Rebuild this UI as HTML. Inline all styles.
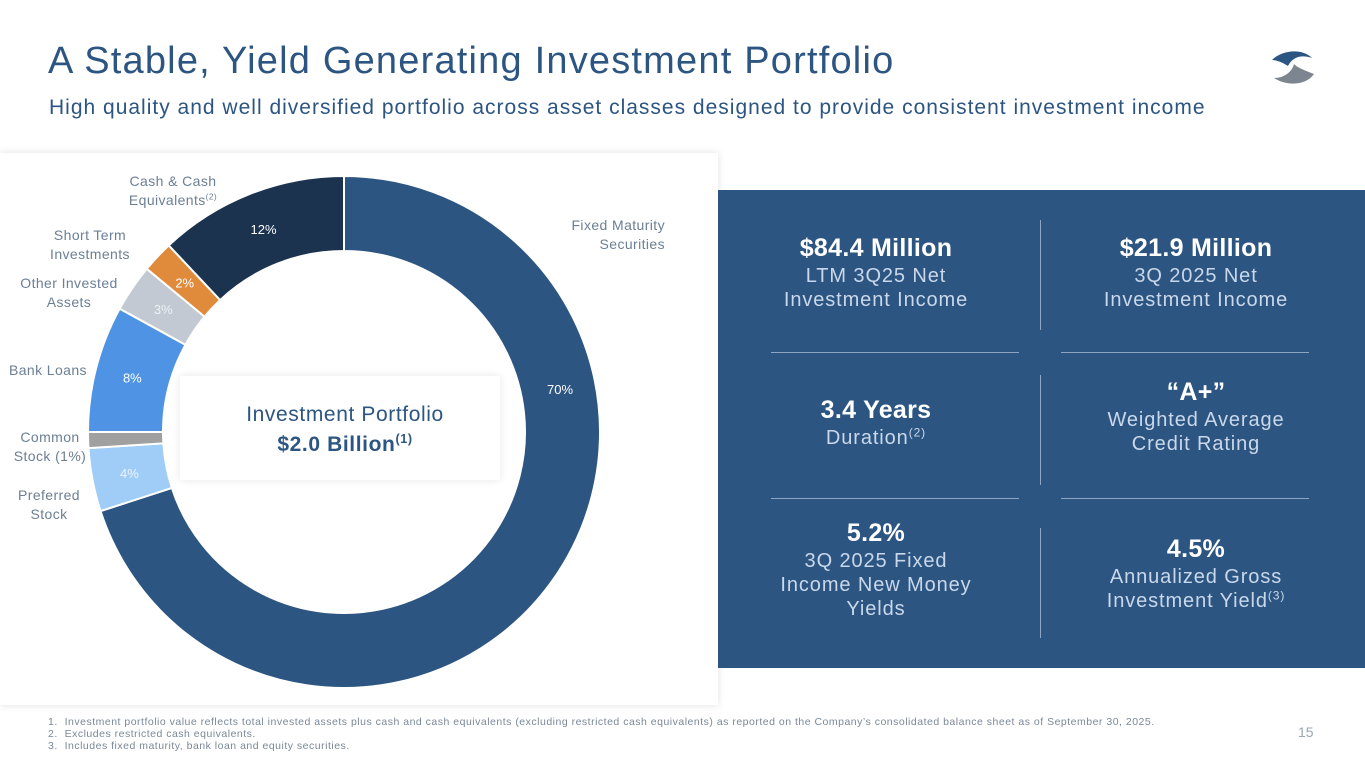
<!DOCTYPE html>
<html><head><meta charset="utf-8">
<style>
body{margin:0;width:1365px;height:768px;background:#fff;font-family:"Liberation Sans",sans-serif;position:relative;overflow:hidden;color:#2c5582}
.abs{position:absolute}
sup{line-height:0;font-size:0.6em}
h1{position:absolute;left:48px;top:40px;margin:0;font-weight:normal;font-size:38px;color:#2c5582;letter-spacing:1.2px}
.sub{left:49px;top:96px;font-size:21px;color:#2c5582;letter-spacing:1px}
.panel{left:0;top:153px;width:718px;height:552px;background:#fff;box-shadow:0 0 8px rgba(0,0,0,0.12)}
.right{left:718px;top:190px;width:647px;height:478px;background:#2c5582}
.cell{position:absolute;width:240px;text-align:center;color:#c9d8ea;font-size:20px;line-height:24px;letter-spacing:0.9px}
.cell b{display:block;color:#fff;font-size:25px;line-height:32px;letter-spacing:0.3px}
.vl{position:absolute;width:1px;background:#8fa6c2}
.hl{position:absolute;height:1px;background:#8fa6c2}
.lbl{font-size:14px;color:#6b7f95;line-height:19px;letter-spacing:0.4px}
.fn{left:48px;font-size:10.5px;color:#7a8898;letter-spacing:0.5px}
</style></head><body>
<h1>A Stable, Yield Generating Investment Portfolio</h1>
<div class="abs sub">High quality and well diversified portfolio across asset classes designed to provide consistent investment income</div>
<svg class="abs" style="left:1262px;top:48px" width="60" height="42" viewBox="0 0 60 42">
<path d="M10 12 C20 2,40 0,50 10 C38 6,30 10,26 18 C20 14,14 12,10 12Z" fill="#2c5582"/>
<path d="M12 30 C24 38,44 38,52 26 C42 22,36 20,32 16 C30 24,22 30,12 30Z" fill="#7d8690"/>
</svg>
<div class="abs panel"></div>
<div class="abs" style="left:180px;top:376px;width:320px;height:104px;background:#fff;box-shadow:0 0 8px rgba(0,0,0,0.1)"></div>
<svg id="donut" class="abs" style="left:0;top:0" width="718" height="768"></svg>
<div class="abs" style="left:180px;top:400px;width:330px;text-align:center;font-size:21px;color:#2c5582;line-height:30px;letter-spacing:0.6px">Investment Portfolio<br><b>$2.0 Billion<sup>(1)</sup></b></div>
<div class="abs lbl" style="left:118px;top:172px;width:110px;text-align:center">Cash &amp; Cash<br>Equivalents<sup>(2)</sup></div>
<div class="abs lbl" style="left:35px;top:226px;width:110px;text-align:center">Short Term<br>Investments</div>
<div class="abs lbl" style="left:8px;top:274px;width:122px;text-align:center">Other Invested<br>Assets</div>
<div class="abs lbl" style="left:9px;top:361px">Bank Loans</div>
<div class="abs lbl" style="left:8px;top:428px;width:84px;text-align:center">Common<br>Stock (1%)</div>
<div class="abs lbl" style="left:10px;top:486px;width:78px;text-align:center">Preferred<br>Stock</div>
<div class="abs lbl" style="left:545px;top:216px;width:120px;text-align:right">Fixed Maturity<br>Securities</div>
<div class="abs right">
<div class="cell" style="left:38px;top:42px"><b>$84.4 Million</b>LTM 3Q25 Net<br>Investment Income</div>
<div class="cell" style="left:358px;top:42px"><b>$21.9 Million</b>3Q 2025 Net<br>Investment Income</div>
<div class="cell" style="left:38px;top:204px"><b>3.4 Years</b>Duration<sup>(2)</sup></div>
<div class="cell" style="left:358px;top:186px"><b>“A+”</b>Weighted Average<br>Credit Rating</div>
<div class="cell" style="left:38px;top:327px"><b>5.2%</b>3Q 2025 Fixed<br>Income New Money<br>Yields</div>
<div class="cell" style="left:358px;top:343px"><b>4.5%</b>Annualized Gross<br>Investment Yield<sup>(3)</sup></div>
<div class="vl" style="left:322px;top:30px;height:110px"></div>
<div class="vl" style="left:322px;top:185px;height:110px"></div>
<div class="vl" style="left:322px;top:338px;height:110px"></div>
<div class="hl" style="left:53px;top:162px;width:248px"></div>
<div class="hl" style="left:343px;top:162px;width:248px"></div>
<div class="hl" style="left:53px;top:308px;width:248px"></div>
<div class="hl" style="left:343px;top:308px;width:248px"></div>
</div>
<div class="abs fn" style="top:716px;line-height:12px">1.&nbsp; Investment portfolio value reflects total invested assets plus cash and cash equivalents (excluding restricted cash equivalents) as reported on the Company’s consolidated balance sheet as of September 30, 2025.<br>2.&nbsp; Excludes restricted cash equivalents.<br>3.&nbsp; Includes fixed maturity, bank loan and equity securities.</div>
<div class="abs" style="left:1298px;top:724px;font-size:14px;color:#9aa6b3">15</div>
<script>
const categories=["Fixed Maturity Securities","Preferred Stock","Common Stock","Bank Loans","Other Invested Assets","Short Term Investments","Cash & Cash Equivalents"];
const values=[70,4,1,8,3,2,12];
const valueLabels=["70%","4%","","8%","3%","2%","12%"];
const colors=["#2c5582","#9fcdf7","#a0a0a0","#4f94e4","#c3c9d3","#e08a3c","#1c3350"];
const svg=document.getElementById('donut');
const NS='http://www.w3.org/2000/svg';
const cx=344,cy=432,R=256,r=181;
const total=values.reduce((a,b)=>a+b,0);
function pt(rad,a){return [cx+rad*Math.sin(a),cy-rad*Math.cos(a)];}
let acc=0;
values.forEach((v,i)=>{
 const a0=acc/total*2*Math.PI, a1=(acc+v)/total*2*Math.PI; acc+=v;
 const large=(a1-a0)>Math.PI?1:0;
 const [x0,y0]=pt(R,a0),[x1,y1]=pt(R,a1),[x2,y2]=pt(r,a1),[x3,y3]=pt(r,a0);
 const p=document.createElementNS(NS,'path');
 p.setAttribute('d',`M${x0},${y0}A${R},${R} 0 ${large} 1 ${x1},${y1}L${x2},${y2}A${r},${r} 0 ${large} 0 ${x3},${y3}Z`);
 p.setAttribute('fill',colors[i]);p.setAttribute('stroke','#fff');p.setAttribute('stroke-width','2');
 
 
 svg.appendChild(p);
 if(valueLabels[i]){
  const am=(a0+a1)/2;
  let [tx,ty]=pt((R+r)/2,am);
  if(i===0){tx=560;ty=389;}
  const t=document.createElementNS(NS,'text');
  t.setAttribute('x',tx);t.setAttribute('y',ty+5);
  t.setAttribute('text-anchor','middle');t.setAttribute('font-size','13');
  t.setAttribute('fill',i===4?'#eef1f5':(i===1?'#eaf4ff':'#fff'));
  t.setAttribute('font-family','Liberation Sans, sans-serif');
  t.textContent=valueLabels[i];
  
  
  svg.appendChild(t);
 }
});
</script>
</body></html>
